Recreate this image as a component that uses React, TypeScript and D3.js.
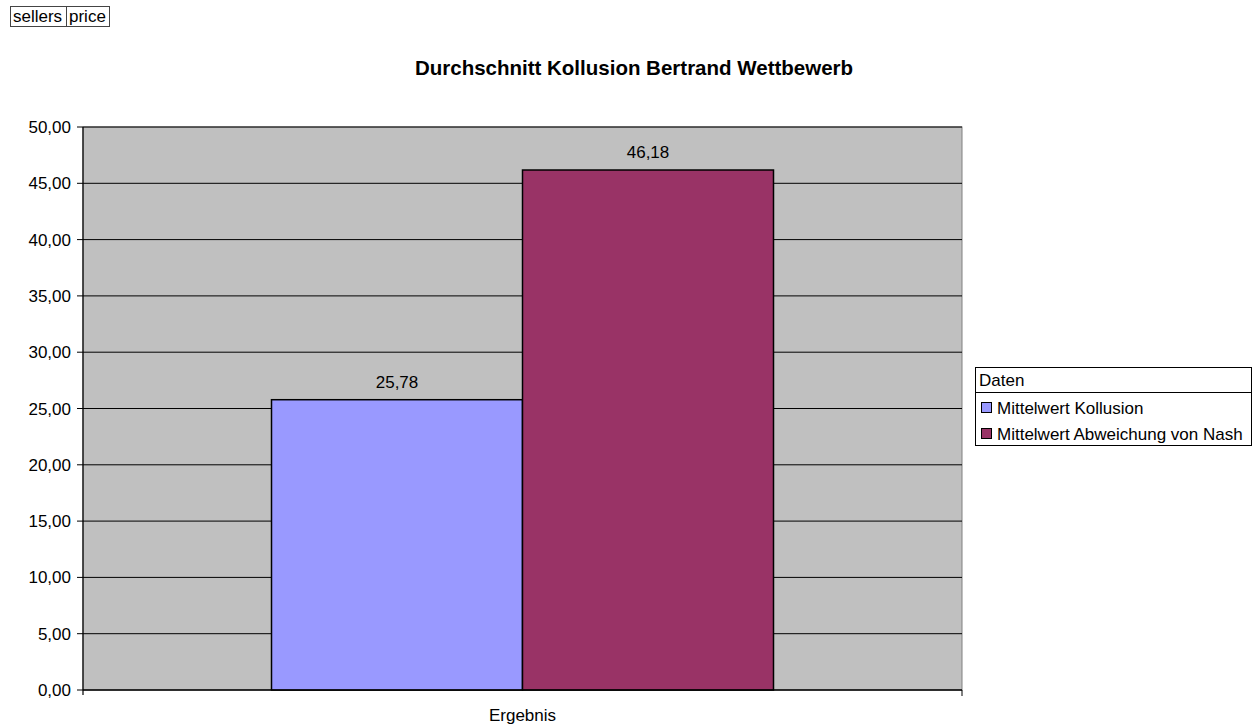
import React from "react";
import { scaleLinear, scaleBand, range } from "d3";

// chart data
const categories = ["Ergebnis"];
const seriesNames = ["Mittelwert Kollusion", "Mittelwert Abweichung von Nash"];
const seriesValues = [25.78, 46.18];
const seriesColors = ["#9999FF", "#993366"];
const yTicks = range(0, 50.001, 5);
const fmt = (v: number) => v.toFixed(2).replace(".", ",");

const W = 1253;
const H = 724;
const plot = { left: 83, right: 962, top: 127, bottom: 690 };
const font = "Liberation Sans, Arial, sans-serif";

function App() {
  const y = scaleLinear().domain([0, 50]).range([plot.bottom, plot.top]);
  const x = scaleBand().domain(categories).range([plot.left, plot.right]);
  const barW = 251;
  const inner = scaleBand()
    .domain(seriesNames)
    .range([0, x.bandwidth()])
    .paddingOuter((x.bandwidth() / barW - 2) / 2);

  return (
    <svg width={W} height={H} style={{ position: "absolute", left: 0, top: 0 }} fontFamily={font}>
      {/* field buttons */}
      <rect x={10.5} y={6.5} width={56} height={20} fill="white" stroke="#444" />
      <text x={13} y={22} fontSize={17}>sellers</text>
      <rect x={66.5} y={6.5} width={43} height={20} fill="white" stroke="#444" />
      <text x={69} y={22} fontSize={17}>price</text>

      <text x={634} y={75} textAnchor="middle" fontSize={20.5} fontWeight="bold">
        Durchschnitt Kollusion Bertrand Wettbewerb
      </text>

      {/* plot area */}
      <rect
        x={plot.left}
        y={plot.top}
        width={plot.right - plot.left}
        height={plot.bottom - plot.top}
        fill="#C0C0C0"
        stroke="#808080"
      />
      {yTicks.map((t) => (
        <g key={t}>
          <line x1={plot.left} x2={plot.right} y1={y(t)} y2={y(t)} stroke="#000" strokeWidth={1} />
          <line x1={plot.left - 6} x2={plot.left} y1={y(t)} y2={y(t)} stroke="#000" />
          <text x={plot.left - 12} y={y(t) + 6} textAnchor="end" fontSize={17}>
            {fmt(t)}
          </text>
        </g>
      ))}

      {/* bars */}
      {seriesNames.map((s, i) => {
        const bx = (x(categories[0]) ?? 0) + (inner(s) ?? 0);
        const by = y(seriesValues[i]);
        return (
          <g key={s}>
            <rect
              x={bx}
              y={by}
              width={inner.bandwidth()}
              height={plot.bottom - by}
              fill={seriesColors[i]}
              stroke="#000"
              strokeWidth={1.5}
            />
            <text x={bx + inner.bandwidth() / 2} y={by - 12} textAnchor="middle" fontSize={17}>
              {fmt(seriesValues[i])}
            </text>
          </g>
        );
      })}

      {/* axes */}
      <line x1={plot.left} x2={plot.left} y1={plot.top} y2={plot.bottom + 5} stroke="#000" strokeWidth={1.2} />
      <line x1={plot.left} x2={plot.right} y1={plot.bottom} y2={plot.bottom} stroke="#000" strokeWidth={1.2} />
      <line x1={plot.right} x2={plot.right} y1={plot.bottom} y2={plot.bottom + 6} stroke="#000" />
      {categories.map((c) => (
        <text key={c} x={(x(c) ?? 0) + x.bandwidth() / 2} y={721} textAnchor="middle" fontSize={17}>
          {c}
        </text>
      ))}

      {/* legend */}
      <rect x={975.5} y={367.5} width={276} height={78} fill="white" stroke="#000" />
      <line x1={975.5} x2={1251.5} y1={392.5} y2={392.5} stroke="#000" />
      <text x={979} y={386} fontSize={17}>Daten</text>
      {seriesNames.map((s, i) => (
        <g key={s}>
          <rect x={981.5} y={402.5 + i * 26} width={10} height={10} fill={seriesColors[i]} stroke="#000" />
          <text x={997} y={414 + i * 26} fontSize={17}>{s}</text>
        </g>
      ))}
    </svg>
  );
}

export default App;
